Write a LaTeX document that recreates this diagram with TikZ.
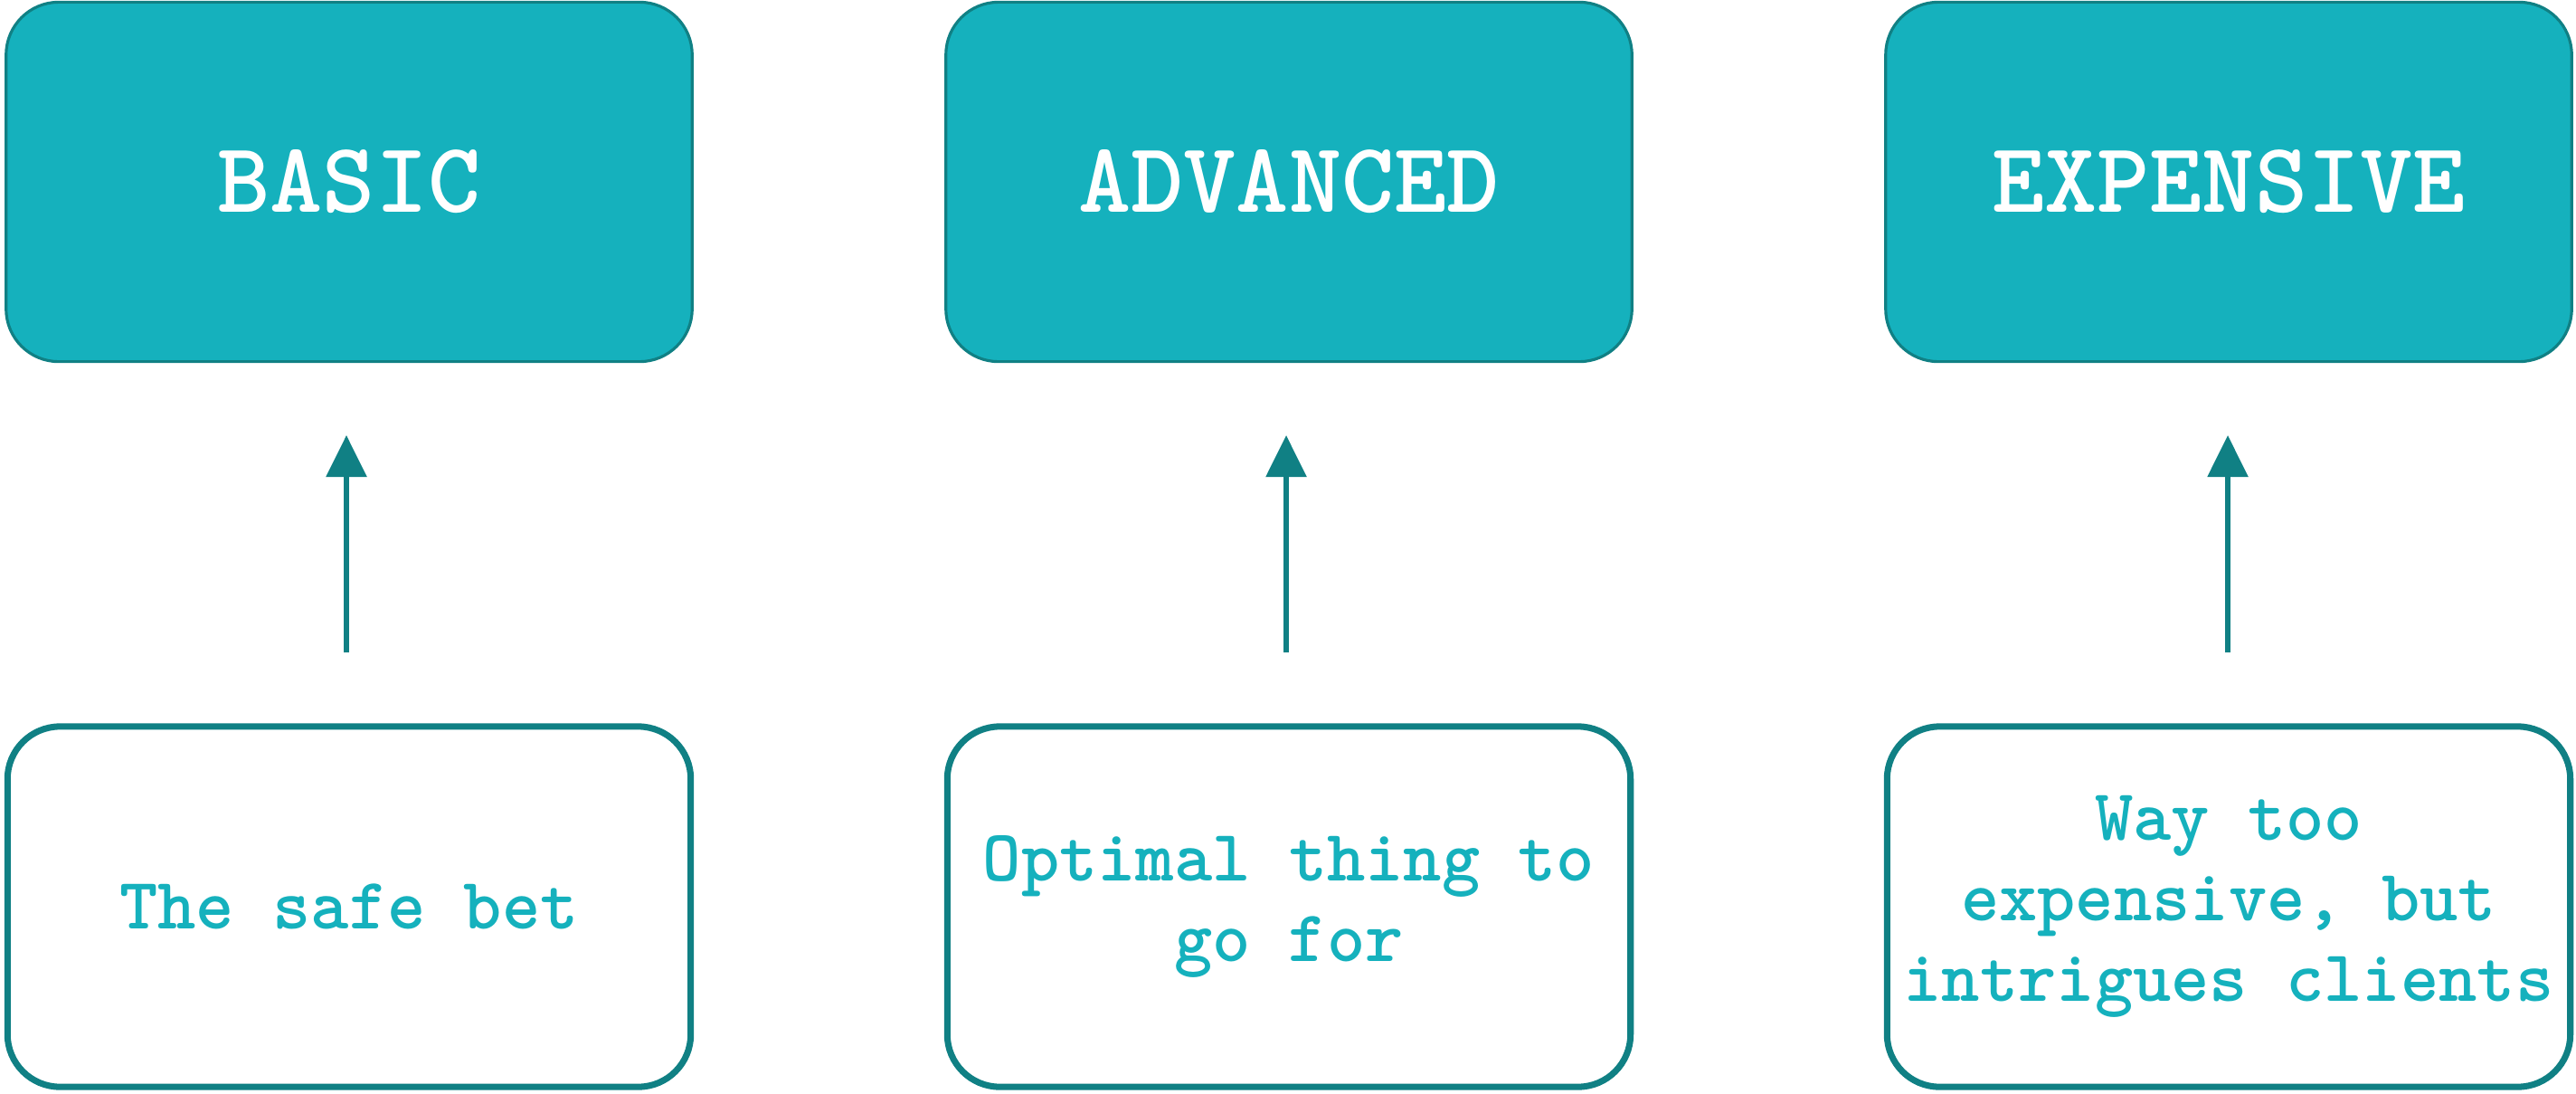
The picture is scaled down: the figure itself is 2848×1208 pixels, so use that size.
\documentclass[tikz,border=0pt]{standalone}
\usetikzlibrary{arrows.meta}
\definecolor{tealfill}{HTML}{15B1BD}
\definecolor{tealdark}{HTML}{108084}
\begin{document}
\begin{tikzpicture}[x=0.01cm,y=-0.01cm,
  topbox/.style={draw=tealdark, line width=0.9pt, fill=tealfill, rounded corners=0.58cm,
    minimum width=7.58cm, minimum height=3.97cm, inner sep=0pt,
    text=white, font=\ttfamily\bfseries\fontsize{31.5}{36}\selectfont},
  botbox/.style={draw=tealdark, line width=2pt, fill=white, rounded corners=0.58cm,
    minimum width=7.55cm, minimum height=3.98cm, inner sep=0pt, align=center,
    text=tealfill, font=\ttfamily\bfseries\fontsize{22.9}{25.3}\selectfont},
  uparrow/.style={draw=tealdark, line width=1.6pt, -{Triangle[width=0.44cm,length=0.46cm]}}]
\useasboundingbox (0,0) rectangle (2848,1208);
\node[topbox] (t1) at (386,201) {BASIC};
\node[topbox] (t2) at (1425,201) {ADVANCED};
\node[topbox] (t3) at (2464,201) {EXPENSIVE};
\node[botbox] (b1) at (386,1002) {The safe bet};
\node[botbox] (b2) at (1425,1002) {Optimal thing to\\go for};
\node[botbox] (b3) at (2464,1002) {Way too\\expensive, but\\intrigues clients};
\coordinate (s1) at (383,721); \coordinate (e1) at (383,481);
\coordinate (s2) at (1422,721); \coordinate (e2) at (1422,481);
\coordinate (s3) at (2463,721); \coordinate (e3) at (2463,481);
\draw[uparrow] (s1) -- (e1);
\draw[uparrow] (s2) -- (e2);
\draw[uparrow] (s3) -- (e3);
\end{tikzpicture}
\end{document}
